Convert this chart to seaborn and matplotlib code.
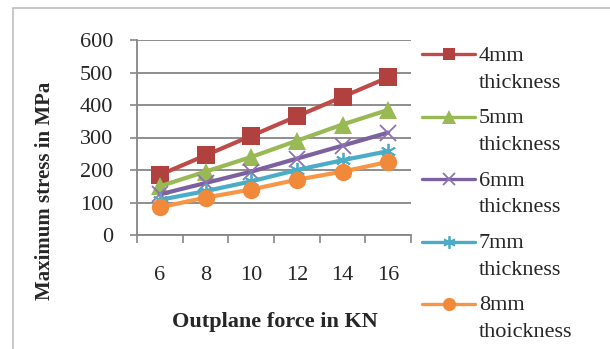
import matplotlib
matplotlib.use("Agg")
import matplotlib.pyplot as plt
from matplotlib.lines import Line2D
from matplotlib.legend_handler import HandlerLine2D
from matplotlib.ticker import FixedLocator, NullFormatter
import numpy as np
import seaborn as sns
import pandas as pd

# Out-of-plane load (kN) and peak stress (MPa) for each plate thickness
force_kn = [6, 8, 10, 12, 14, 16]
stress_4mm = [185, 245, 305, 365, 425, 485]
stress_5mm = [150, 195, 240, 290, 340, 385]
stress_6mm = [125, 160, 195, 235, 275, 315]
stress_7mm = [108, 135, 165, 200, 230, 258]
stress_8mm = [85, 115, 140, 170, 195, 225]
series_labels = ["4mm\nthickness", "5mm\nthickness", "6mm\nthickness",
                 "7mm\nthickness", "8mm\nthoickness"]
y_ticks = [0, 100, 200, 300, 400, 500, 600]

series_values = [stress_4mm, stress_5mm, stress_6mm, stress_7mm, stress_8mm]
df = pd.DataFrame({
    "force": force_kn * len(series_labels),
    "stress": [v for vals in series_values for v in vals],
    "series": [lab for lab in series_labels for _ in force_kn],
})

colors = ["#BE4B48", "#98B954", "#7D60A0", "#4BACC6", "#F79646"]
marker_colors = ["#B0413E", "#98B954", "#8E72B4", "#4BACC6", "#F08A3A"]
markers = ["s", "^", "x", (6, 2, 0), "o"]
msizes = [13, 13, 11, 11, 12.5]
medges = [0, 0, 1.3, 1.3, 0]
leg_sizes = [9, 10, 9, 9, 9.5]


class FirstLineHandler(HandlerLine2D):
    """Line handler lifted to sit beside the first line of a two-line label."""

    def __init__(self, shift, **kw):
        super().__init__(**kw)
        self.shift = shift

    def create_artists(self, legend, orig_handle, xdescent, ydescent,
                       width, height, fontsize, trans):
        arts = super().create_artists(legend, orig_handle, xdescent, ydescent,
                                      width, height, fontsize, trans)
        for a in arts:
            a.set_ydata(np.asarray(a.get_ydata(), float) + self.shift * fontsize)
        return arts


sns.set_style("white")
plt.rcParams["font.family"] = ["Liberation Serif", "DejaVu Serif"]

fig = plt.figure(figsize=(6.10, 3.49), dpi=100)
ax = fig.add_axes([137 / 610, 1 - 235 / 349, 274 / 610, 195 / 349])

grey = "#868686"
for lab, col, mcol, mk, ms, mew in zip(series_labels, colors, marker_colors,
                                        markers, msizes, medges):
    sub = df[df["series"] == lab]
    sns.lineplot(data=sub, x="force", y="stress", ax=ax, color=col,
                 linewidth=3.0, marker=mk, markersize=ms,
                 markerfacecolor=mcol, markeredgecolor=mcol,
                 markeredgewidth=mew, legend=False, zorder=3)

ax.set_xlim(5, 17)
ax.set_ylim(0, 600)
ax.set_yticks(y_ticks)
ax.set_yticklabels([str(t) for t in y_ticks])
ax.xaxis.set_major_locator(FixedLocator([5, 7, 9, 11, 13, 15, 17]))
ax.xaxis.set_major_formatter(NullFormatter())
ax.xaxis.set_minor_locator(FixedLocator(force_kn))
ax.set_xticklabels([str(f) for f in force_kn], minor=True)

ax.grid(axis="y", color=grey, linewidth=1.3)
ax.grid(axis="x", visible=False)
ax.set_axisbelow(True)
for side in ["top", "right"]:
    ax.spines[side].set_visible(False)
for side in ["left", "bottom"]:
    ax.spines[side].set_color(grey)
    ax.spines[side].set_linewidth(1.3)

ax.tick_params(axis="y", which="major", direction="out", length=5,
               width=1.2, color=grey, labelsize=16, pad=12, left=True)
ax.tick_params(axis="x", which="major", direction="out", length=6,
               width=1.2, color=grey, bottom=True)
ax.tick_params(axis="x", which="minor", length=0, labelsize=16, pad=22)

ax.set_xlabel("Outplane force in KN", fontsize=16, fontweight="bold")
ax.xaxis.set_label_coords(0.504, -0.446)
ax.xaxis.label.set_va("center")
ax.set_ylabel("")
fig.text(45 / 610, 1 - 191 / 349, "Maximum stress in MPa", rotation=90,
         ha="center", va="center", fontsize=15, fontweight="bold")

handles = [Line2D([], [], color=c, linewidth=2.4, marker=m, markersize=s,
                  markerfacecolor=mc, markeredgecolor=mc, markeredgewidth=e)
           for c, mc, m, s, e in zip(colors, marker_colors, markers,
                                      leg_sizes, medges)]
leg = fig.legend(handles, series_labels, loc="upper left",
                 bbox_to_anchor=(422 / 610, 1 - 47 / 349), frameon=False,
                 fontsize=16, handlelength=2.4, handletextpad=0.15,
                 labelspacing=0.75, borderpad=0, borderaxespad=0,
                 handler_map={Line2D: FirstLineHandler(0.66)})
for t in leg.get_texts():
    t.set_linespacing(1.55)

# chart area frame
frame_kw = dict(color="#BFBFBF", linewidth=1.2, transform=fig.transFigure)
fig.add_artist(Line2D([13 / 610, 13 / 610], [0, 1 - 8 / 349], **frame_kw))
fig.add_artist(Line2D([13 / 610, 1], [1 - 8 / 349, 1 - 8 / 349], **frame_kw))

fig.savefig("out.png", dpi=100)
